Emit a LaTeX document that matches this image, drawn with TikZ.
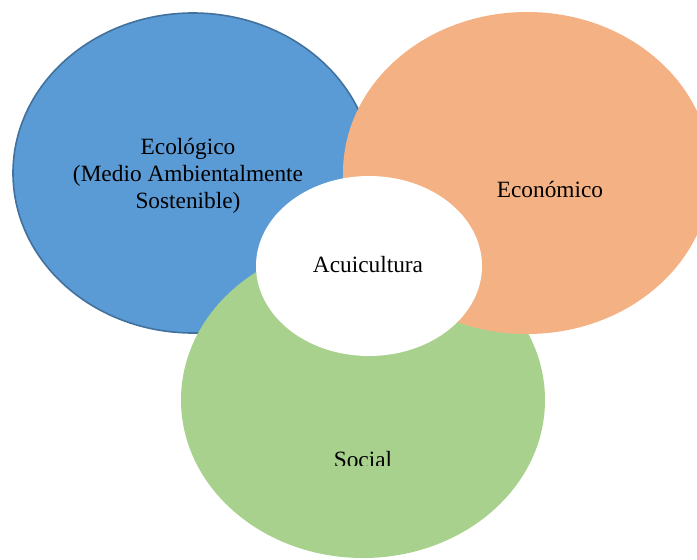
\documentclass[tikz,border=0pt]{standalone}
\usepackage{fontspec}
\setmainfont{Liberation Serif}
\usetikzlibrary{positioning}

\definecolor{ecoblue}{RGB}{91,155,213}
\definecolor{ecoline}{RGB}{65,113,156}
\definecolor{econorange}{RGB}{244,177,131}
\definecolor{socgreen}{RGB}{169,209,142}

\tikzset{
  label text/.style={inner sep=0pt, align=center, font=\fontsize{17.5}{20.5}\selectfont, text=black},
}

\begin{document}
\begin{tikzpicture}[x=0.75pt,y=0.75pt,yscale=-1,xscale=1]
\useasboundingbox (0,0) rectangle (697,560);

%Shape: Ellipse [ecologico]
\fill[ecoblue] (193,173) ellipse (180 and 160);
\draw[ecoline, line width=1.2pt] (193,173) ellipse (180 and 160);
%Shape: Ellipse [social]
\fill[socgreen] (363,400) ellipse (182 and 158);
%Shape: Ellipse [economico]
\fill[econorange] (527,173) ellipse (184 and 161);
%Shape: Ellipse [acuicultura]
\fill[white] (369,266) ellipse (113 and 90);

% Text Node
\node[label text] (eco) at (188,176) {Ecológico\\(Medio Ambientalmente\\Sostenible)};
% Text Node
\begin{scope}
  \clip (440,150) rectangle (680,202.5);
  \node[label text, anchor=base] (econ) at (550,197) {Económico};
\end{scope}
% Text Node
\begin{scope}
  \clip (280,420) rectangle (450,465);
  \node[label text, anchor=base] (soc) at (363,467) {Social};
\end{scope}
% Text Node
\node[label text] (acui) at (368,265) {Acuicultura};

\end{tikzpicture}
\end{document}
